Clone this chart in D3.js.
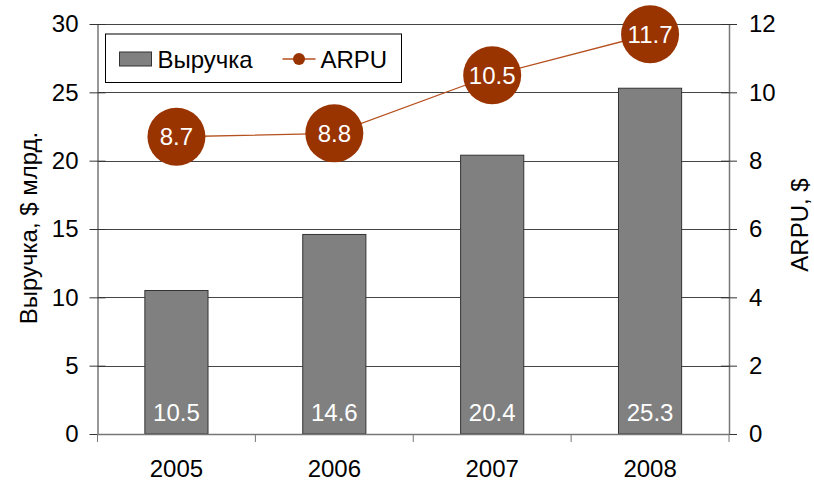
<!DOCTYPE html>
<html>
<head>
<meta charset="utf-8">
<script src="https://cdn.jsdelivr.net/npm/d3@7"></script>
<style>
  body { margin: 0; background: #fff; }
  text { font-family: "Liberation Sans", Arial, sans-serif; }
</style>
</head>
<body>
<div class="chart"></div>
<script>
(function () {
  'use strict';

  var years = ['2005', '2006', '2007', '2008'];
  var revenue = [10.5, 14.6, 20.4, 25.3];
  var arpu = [8.7, 8.8, 10.5, 11.7];
  var leftTicks = [0, 5, 10, 15, 20, 25, 30];
  var rightTicks = [0, 2, 4, 6, 8, 10, 12];

  var margin = { top: 24, right: 85, bottom: 50, left: 97.5 };
  var width = 814 - margin.left - margin.right;
  var height = 484 - margin.top - margin.bottom;

  var x = d3.scaleBand().domain(years).range([0, width]).paddingInner(0.6).paddingOuter(0.3);
  var y = d3.scaleLinear().domain([0, 30]).range([height, 0]);
  var y2 = d3.scaleLinear().domain([0, 12]).range([height, 0]);

  var svg = d3.select('.chart')
      .append('svg')
      .attr('width', 814)
      .attr('height', 484)
      .append('g')
      .attr('transform', 'translate(' + margin.left + ',' + margin.top + ')');

  // gridlines
  svg.selectAll('.grid')
     .data(leftTicks.slice(1))
     .enter()
     .append('line')
     .attr('x1', 0).attr('x2', width)
     .attr('y1', function(d) { return Math.round(y(d)) + 0.5; })
     .attr('y2', function(d) { return Math.round(y(d)) + 0.5; })
     .attr('stroke', '#444')
     .attr('stroke-width', 1);

  // bars
  svg.selectAll('.bar')
     .data(revenue)
     .enter()
     .append('rect')
     .attr('x', function(d, i) { return x(years[i]); })
     .attr('width', x.bandwidth())
     .attr('y', function(d) { return y(d); })
     .attr('height', function(d) { return height - y(d); })
     .attr('fill', '#808080')
     .attr('stroke', '#333')
     .attr('stroke-width', 1);

  svg.selectAll('.barlabel')
     .data(revenue)
     .enter()
     .append('text')
     .attr('x', function(d, i) { return x(years[i]) + x.bandwidth() / 2; })
     .attr('y', height - 13)
     .attr('text-anchor', 'middle')
     .attr('fill', '#fff')
     .style('font-size', '24px')
     .text(function(d) { return d.toFixed(1); });

  // axes
  var axisColor = '#777';
  var leftAxis = svg.append('g')
     .call(d3.axisLeft(y).tickValues(leftTicks).tickSizeInner(8).tickSizeOuter(0).tickPadding(11));
  leftAxis.selectAll('.tick line').attr('x2', -8).attr('x1', 8).attr('stroke', '#333');
  var rightAxis = svg.append('g')
     .attr('transform', 'translate(' + width + ',0)')
     .call(d3.axisRight(y2).tickValues(rightTicks).tickSizeInner(8).tickSizeOuter(0).tickPadding(12));
  rightAxis.selectAll('.tick line').attr('x1', -8).attr('x2', 8).attr('stroke', '#333');
  var xAxis = svg.append('g')
     .attr('transform', 'translate(0,' + height + ')')
     .call(d3.axisBottom(x).tickSize(0).tickPadding(26));
  // category separator ticks
  xAxis.selectAll('.sep')
     .data(d3.range(years.length + 1))
     .enter()
     .append('line')
     .attr('x1', function(i) { return i * x.step(); })
     .attr('x2', function(i) { return i * x.step(); })
     .attr('y1', 0).attr('y2', 8)
     .attr('stroke', axisColor);

  [leftAxis, rightAxis, xAxis].forEach(function(a) {
    a.select('.domain').attr('stroke', axisColor).attr('stroke-width', 1.5);
    a.selectAll('.tick text')
     .attr('fill', '#000')
     .style('font-family', '"Liberation Sans", Arial, sans-serif')
     .style('font-size', '24px');
  });

  // ARPU line
  var cx = function(d, i) { return x(years[i]) + x.bandwidth() / 2; };
  svg.append('path')
     .datum(arpu)
     .attr('d', d3.line().x(cx).y(function(d) { return y2(d); }))
     .attr('fill', 'none')
     .attr('stroke', '#b5501f')
     .attr('stroke-width', 1.3);

  svg.selectAll('.dot')
     .data(arpu)
     .enter()
     .append('circle')
     .attr('cx', cx)
     .attr('cy', function(d) { return y2(d); })
     .attr('r', 29)
     .attr('fill', '#993300');

  svg.selectAll('.dotlabel')
     .data(arpu)
     .enter()
     .append('text')
     .attr('x', cx)
     .attr('y', function(d) { return y2(d) + 8.5; })
     .attr('text-anchor', 'middle')
     .attr('fill', '#fff')
     .style('font-size', '24px')
     .text(function(d) { return d.toFixed(1); });

  // axis titles
  svg.append('text')
     .attr('transform', 'translate(' + (-margin.left + 37) + ',' + (height / 2 - 1) + ') rotate(-90)')
     .attr('text-anchor', 'middle')
     .style('font-size', '24px')
     .text('Выручка, $ млрд.');
  svg.append('text')
     .attr('transform', 'translate(' + (width + 79) + ',' + (height / 2 - 4) + ') rotate(-90)')
     .attr('text-anchor', 'middle')
     .style('font-size', '24px')
     .text('ARPU, $');

  // legend
  var legend = svg.append('g').attr('transform', 'translate(8,10)');
  legend.append('rect')
     .attr('width', 296).attr('height', 48.5)
     .attr('fill', '#fff').attr('stroke', '#000').attr('stroke-width', 1);
  legend.append('rect')
     .attr('x', 14).attr('y', 18).attr('width', 32).attr('height', 14)
     .attr('fill', '#808080').attr('stroke', '#333');
  legend.append('text')
     .attr('x', 52).attr('y', 34)
     .style('font-size', '24px')
     .text('Выручка');
  legend.append('line')
     .attr('x1', 177).attr('x2', 210).attr('y1', 25).attr('y2', 25)
     .attr('stroke', '#b5501f').attr('stroke-width', 1.3);
  legend.append('circle')
     .attr('cx', 193.5).attr('cy', 25).attr('r', 6).attr('fill', '#993300');
  legend.append('text')
     .attr('x', 215).attr('y', 34)
     .style('font-size', '24px')
     .text('ARPU');
}());
</script>
</body>
</html>
